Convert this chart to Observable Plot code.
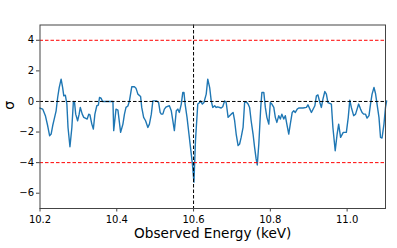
<!DOCTYPE html>
<html>
<head>
<meta charset="utf-8">
<script src="https://cdn.jsdelivr.net/npm/d3@7"></script>
<script src="https://cdn.jsdelivr.net/npm/@observablehq/plot@0.6"></script>
<style>
  html, body { margin: 0; padding: 0; background: #fff; }
</style>
</head>
<body>
<div id="chart"></div>
<script>
const energy = [10.200,10.207,10.214,10.220,10.225,10.229,10.233,10.237,10.242,10.246,10.250,10.255,10.259,10.262,10.266,10.270,10.273,10.278,10.283,10.287,10.290,10.293,10.298,10.302,10.305,10.310,10.314,10.318,10.323,10.327,10.330,10.335,10.339,10.343,10.348,10.352,10.355,10.359,10.363,10.377,10.390,10.392,10.398,10.403,10.410,10.416,10.420,10.424,10.429,10.433,10.439,10.446,10.450,10.455,10.462,10.465,10.470,10.475,10.481,10.485,10.490,10.494,10.503,10.509,10.513,10.516,10.520,10.524,10.529,10.537,10.542,10.546,10.550,10.555,10.559,10.563,10.568,10.572,10.575,10.578,10.583,10.588,10.592,10.597,10.601,10.605,10.611,10.616,10.618,10.623,10.627,10.633,10.637,10.642,10.646,10.650,10.655,10.659,10.663,10.672,10.676,10.681,10.685,10.690,10.694,10.698,10.703,10.707,10.711,10.716,10.720,10.724,10.729,10.733,10.737,10.742,10.746,10.750,10.755,10.759,10.763,10.766,10.770,10.775,10.778,10.783,10.787,10.791,10.796,10.800,10.804,10.809,10.813,10.817,10.822,10.826,10.830,10.835,10.839,10.843,10.848,10.852,10.857,10.861,10.865,10.870,10.874,10.885,10.894,10.898,10.903,10.907,10.916,10.920,10.924,10.929,10.933,10.937,10.942,10.946,10.950,10.959,10.963,10.969,10.974,10.978,10.983,10.990,10.998,11.003,11.007,11.011,11.017,11.022,11.026,11.030,11.035,11.039,11.043,11.048,11.052,11.057,11.061,11.065,11.070,11.074,11.078,11.083,11.087,11.091,11.096,11.100,11.103];
const sigma = [-0.43,-0.50,-0.93,-1.59,-2.24,-2.13,-1.59,-1.15,-0.61,0.26,0.91,1.46,0.91,0.37,0.41,-0.17,-1.70,-2.96,-1.70,0.00,-0.07,-0.83,-1.26,-0.83,-0.39,-0.83,-1.04,-1.09,-1.15,-0.83,-0.87,-1.48,-1.80,-0.83,-0.28,-0.24,0.26,0.22,0.00,0.00,0.00,-1.91,-0.50,-0.57,-2.02,-1.48,-0.83,-0.39,-0.30,0.04,0.96,0.96,0.87,0.48,0.33,-0.39,-1.04,-1.26,-1.70,-1.48,-0.83,0.04,0.04,-0.07,-0.72,-0.83,-0.83,-0.50,-0.35,-0.28,-0.61,-1.26,-1.91,-0.61,-0.50,-0.72,-0.17,0.59,0.59,-0.17,-1.04,-2.13,-3.00,-4.09,-5.28,-2.57,-0.17,-0.07,0.04,-0.17,-0.07,0.48,1.46,0.91,0.04,-0.39,-0.28,-0.39,-0.35,-0.43,-0.35,0.04,-0.07,-1.04,-0.93,-0.83,-0.72,-1.26,-2.13,-2.89,-2.78,-2.35,-1.70,-0.07,-0.02,-0.17,-0.39,-1.26,-2.13,-3.00,-3.76,-4.15,-2.78,-0.39,0.59,0.59,-0.39,-1.04,-1.48,-0.07,-0.17,-0.39,-1.04,-1.37,-0.93,-1.15,-0.83,-1.15,-0.93,-1.48,-2.13,-1.48,-0.72,-0.61,-0.72,-0.50,-0.43,-0.43,-0.39,-0.22,-0.50,-0.72,-0.28,0.37,0.43,-0.07,-0.39,0.15,0.65,0.48,-0.07,-0.17,-1.70,-3.22,-2.13,-1.48,-2.35,-2.02,-2.02,-1.04,0.09,-0.39,-0.93,-0.83,-0.50,-0.17,-0.50,-0.72,-0.83,-0.83,-1.09,-0.93,-0.17,0.48,0.91,0.52,-0.17,-1.04,-2.35,-2.39,-1.48,-0.39,0.04];
const thresholdLines = [-4, 4];
const zeroLine = [0];
const lineEnergy = [10.6];
const xTicks = [10.2, 10.4, 10.6, 10.8, 11.0];
const yTicks = [-6, -4, -2, 0, 2, 4];
const xLabel = "Observed Energy (keV)";
const yLabel = "σ";

const data = energy.map((e, i) => ({e, s: sigma[i]}));

const chart = Plot.plot({
  width: 397,
  height: 248,
  marginLeft: 39.5,
  marginRight: 12,
  marginTop: 24.5,
  marginBottom: 40,
  style: {fontFamily: "DejaVu Sans", fontSize: "10px", background: "#fff", color: "#000"},
  x: {domain: [10.2, 11.1], ticks: xTicks, tickFormat: d => d.toFixed(1)},
  y: {domain: [-7, 5], ticks: yTicks},
  marks: [
    Plot.line(data, {x: "e", y: "s", stroke: "#1f77b4", strokeWidth: 1.4}),
    Plot.ruleY(thresholdLines, {stroke: "red", strokeWidth: 1, strokeDasharray: "3.5,2"}),
    Plot.ruleY(zeroLine, {stroke: "#000", strokeWidth: 1, strokeDasharray: "3.5,2"}),
    Plot.ruleX(lineEnergy, {stroke: "#000", strokeWidth: 1, strokeDasharray: "3.5,2"}),
    Plot.frame({stroke: "#444", strokeWidth: 1}),
    Plot.axisX({ticks: xTicks, tickFormat: d => d.toFixed(1), tickSize: 3.5, tickPadding: 4, label: null, fontSize: 10, stroke: "#444"}),
    Plot.axisY({ticks: yTicks, tickSize: 3.5, tickPadding: 2.5, label: null, fontSize: 10, stroke: "#444"}),
    Plot.text([xLabel], {frameAnchor: "bottom", text: d => d, dy: 29, lineAnchor: "bottom", fontSize: 13.6, fill: "#000"}),
    Plot.text([yLabel], {frameAnchor: "left", text: d => d, dx: -26, dy: -7, rotate: -90, lineAnchor: "bottom", fontSize: 14, fill: "#000"})
  ]
});
document.getElementById("chart").appendChild(chart);
</script>
</body>
</html>
